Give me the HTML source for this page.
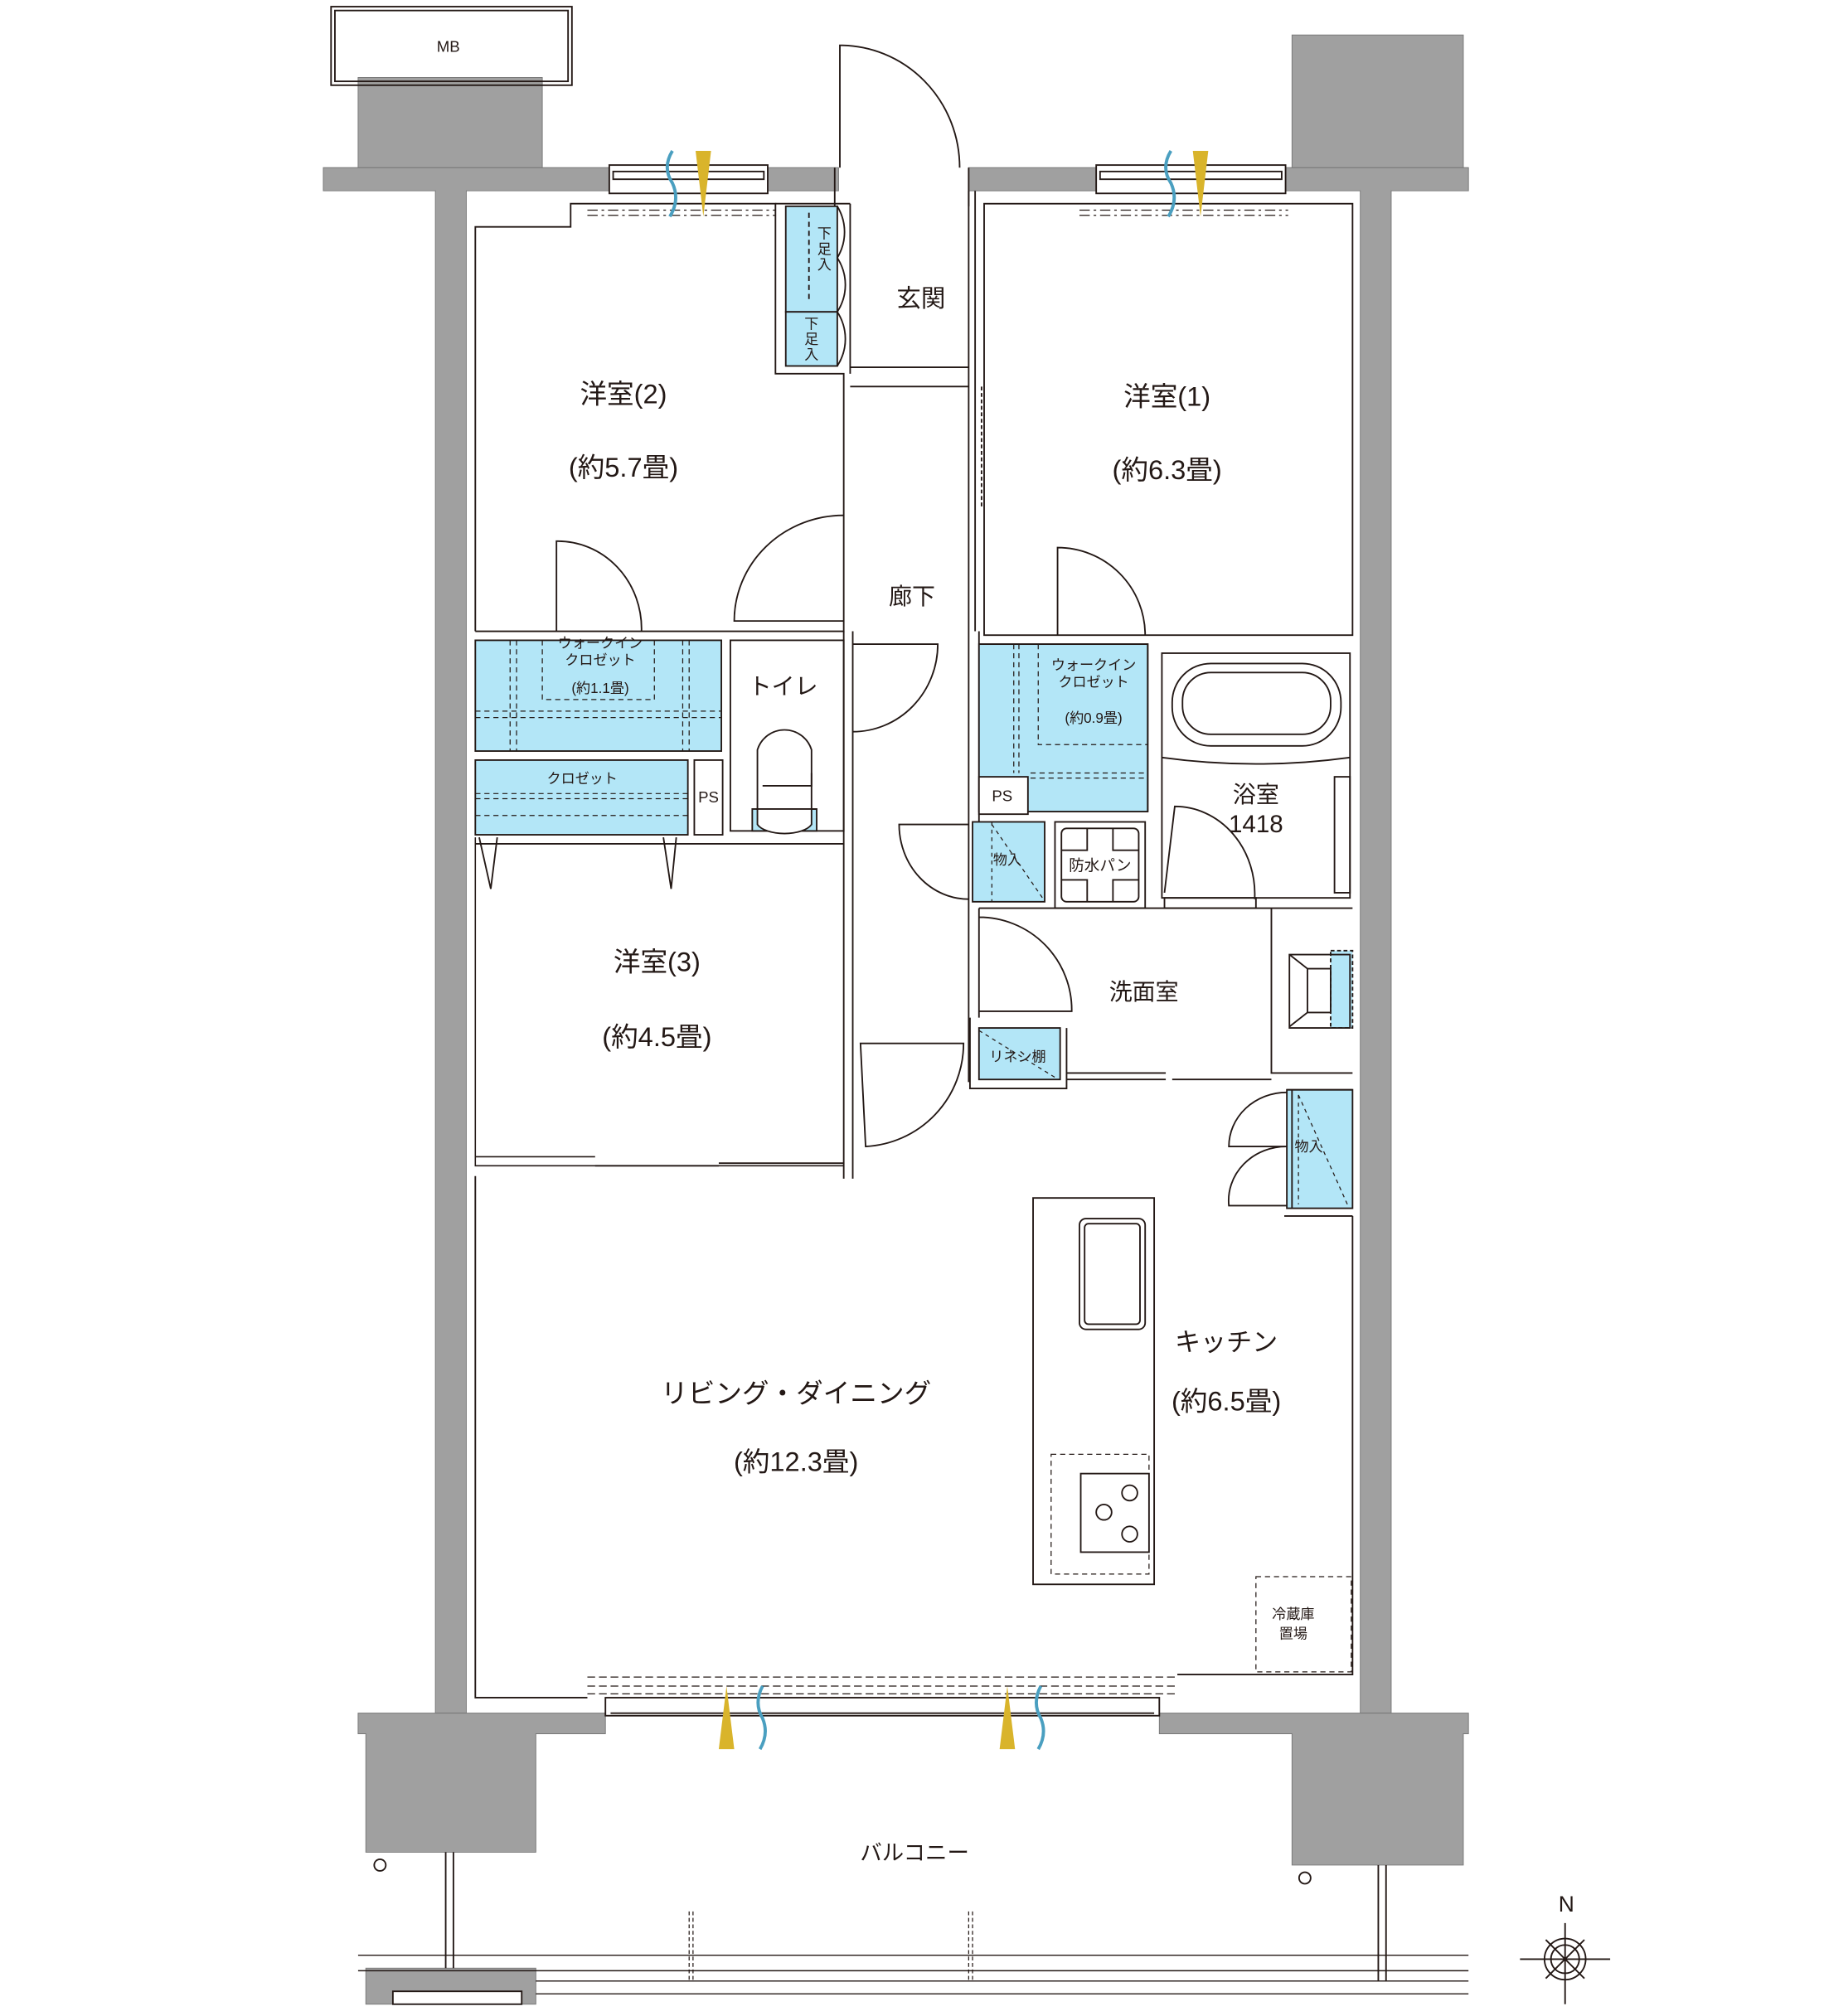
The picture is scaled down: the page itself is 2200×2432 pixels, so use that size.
<!DOCTYPE html>
<html><head><meta charset="utf-8"><style>
html,body{margin:0;padding:0;background:#fff;}
svg{display:block;}
text{font-family:"Liberation Sans","Noto Sans CJK JP",sans-serif;fill:#231815;}
</style></head><body>
<svg width="2200" height="2432" viewBox="0 0 1416 1565" xmlns="http://www.w3.org/2000/svg">
<g fill="none" stroke="#231815" stroke-width="1.2">
<g fill="#a0a0a0" stroke="#777" stroke-width="0.6">
<path d="M251 130 H473 V148 H362 V1330 H338 V148 H251 Z"/>
<rect x="596" y="130" width="55" height="18"/>
<rect x="752" y="130" width="99" height="18"/>
<path d="M998 130 H1140 V148 H1080 V1330 H1056 V148 H998 Z"/>
<rect x="278" y="60" width="143" height="70"/>
<rect x="1003" y="27" width="133" height="103"/>
<path d="M278 1330 H338 V1330 H362 V1330 H470 V1346 H416 V1438 H284 V1346 H278 Z"/>
<path d="M900 1330 H1140 V1346 H1136 V1448 H1003 V1346 H900 Z"/>
<rect x="284" y="1528" width="132" height="28"/>
</g>
<rect x="305" y="1546" width="100" height="10" fill="#fff"/>
<rect x="257" y="5" width="187" height="61"/>
<rect x="260" y="8" width="181" height="55"/>
<rect x="473" y="128" width="123" height="22"/><rect x="476" y="133" width="117" height="6"/>
<rect x="851" y="128" width="147" height="22"/><rect x="854" y="133" width="141" height="6"/>
<path d="M456 163 H602 M456 167 H602 M838 163 H1000 M838 167 H1000" stroke-dasharray="8 3 2 3" stroke-width="0.8"/>
<path d="M652 130 V35 A93 95 0 0 1 745 130"/>
<path d="M648 130 V160 M752 130 V160"/>
<path d="M369 490 V176 H443 V158 H602 V290 H655 V490 H369"/>
<path d="M602 158 H660 M660 158 V290 M752 148 V490 M660 285 H752 M660 300 H752"/>
<rect x="610" y="160" width="40" height="82" fill="#b3e6f7"/>
<rect x="610" y="242" width="40" height="42" fill="#b3e6f7"/>
<path d="M650 160 A42 40 0 0 1 650 200 A42 40 0 0 1 650 242 M650 242 A42 40 0 0 1 650 284"/>
<path d="M628 165 V235" stroke-dasharray="4 3"/>
<rect x="764" y="158" width="286" height="335"/>
<path d="M757 148 V300 M757 300 V490" />
<path d="M762 300 V395" stroke-dasharray="3 2"/>
<path d="M432 490 V420 A65 68 0 0 1 498 490"/>
<path d="M655 400 A85 82 0 0 0 570 482 H655"/>
<path d="M821 493 V425 A68 68 0 0 1 889 493"/>
<path d="M655 490 V915 M662 490 V915 M752 490 V840 M760 490 V700"/>
<path d="M662 500 H728 A66 68 0 0 1 662 568"/>
<rect x="369" y="497" width="191" height="86" fill="#b3e6f7"/>
<path d="M396 497 V583 M401 497 V583 M530 497 V583 M535 497 V583 M369 552 H560 M369 557 H560 M421 497 V543 H508 V497" stroke-dasharray="4 3" stroke-width="0.8"/>
<rect x="369" y="590" width="165" height="58" fill="#b3e6f7"/>
<path d="M369 616 H534 M369 620 H534 M369 633 H534" stroke-dasharray="4 3" stroke-width="0.8"/>
<rect x="539" y="590" width="22" height="58"/>
<path d="M372 650 L381 690 L386 650 M525 650 L521 690 L515 650"/>
<rect x="567" y="497" width="88" height="148"/>
<rect x="584" y="628" width="50" height="17" fill="#b3e6f7"/>
<path d="M588 640 V582 A22 22 0 0 1 630 582 V640 A22 10 0 0 1 588 640 Z" fill="#fff"/>
<path d="M587 628 H634 M592 610 H630 V600"/>
<path d="M369 650 V905 H655 M369 898 H462 M369 905 H462" stroke-width="1"/>
<path d="M462 905 H558 M558 903 H655" />
<path d="M655 655 H369"/>
<path d="M668 810 H748 A80 80 0 0 1 672 890 Z"/>
<rect x="760" y="500" width="131" height="130" fill="#b3e6f7"/>
<path d="M760 500 H891 V630"/>
<path d="M787 500 V600 M791 500 V600 M806 500 V578 H891 M800 600 H891 M800 604 H891" stroke-dasharray="4 3" stroke-width="0.8"/>
<rect x="760" y="603" width="38" height="29" fill="#fff"/>
<rect x="755" y="638" width="56" height="62" fill="#b3e6f7"/>
<path d="M770 638 V700 M770 640 L810 698" stroke-dasharray="3 3" stroke-width="0.8"/>
<path d="M752 640 H698 A54 58 0 0 0 752 698"/>
<rect x="819" y="638" width="70" height="67"/>
<rect x="824" y="643" width="60" height="57" rx="4"/>
<path d="M844 643 V660 H824 M864 643 V660 H884 M824 683 H844 V700 M884 683 H864 V700"/>
<rect x="902" y="507" width="146" height="190"/>
<rect x="910" y="515" width="131" height="64" rx="30"/>
<rect x="918" y="522" width="115" height="48" rx="22"/>
<path d="M902 588 Q975 598 1048 588"/>
<rect x="1036" y="603" width="12" height="90"/>
<path d="M904 693 L912 626 A62 68 0 0 1 974 698"/>
<rect x="904" y="697" width="71" height="8"/>
<path d="M760 705 H1050 M760 705 V790 M987 705 V833 H1050 M760 712 A72 72 0 0 1 832 785 H760"/>
<rect x="760" y="798" width="63" height="40" fill="#b3e6f7"/>
<path d="M753 790 V845 H828 V798 M828 833 H905 M828 838 H905 M910 838 H987" />
<path d="M760 800 L820 837" stroke-dasharray="3 3" stroke-width="0.8"/>
<rect x="1033" y="738" width="17" height="60" fill="#b3e6f7" stroke-dasharray="3 2"/>
<path d="M1001 741 H1048 V798 H1001 Z M1001 741 L1015 752 H1033 V786 H1015 L1001 797 M1015 752 V786"/>
<rect x="999" y="846" width="51" height="92" fill="#b3e6f7"/>
<path d="M1003 846 V938 M999 846 H1050 M997 944 H1050"/>
<path d="M1008 850 V935 M1008 850 L1046 935" stroke-dasharray="3 3" stroke-width="0.8"/>
<path d="M999 848 A45 42 0 0 0 954 890 H999 A45 42 0 0 0 954 936 H999"/>
<path d="M369 913 V1318 H456 M914 1300 H1050 V944"/>
<path d="M456 1302 H914 M456 1309 H914 M456 1315 H914" stroke-dasharray="6 3" stroke-width="0.8"/>
<rect x="470" y="1318" width="430" height="14"/>
<path d="M474 1330 H896"/>
<rect x="802" y="930" width="94" height="300"/>
<rect x="838" y="946" width="51" height="86" rx="5"/>
<rect x="842" y="950" width="43" height="78" rx="3"/>
<rect x="816" y="1129" width="76" height="93" stroke-dasharray="4 3" stroke-width="0.8"/>
<rect x="839" y="1144" width="53" height="61"/>
<circle cx="877" cy="1159" r="6"/><circle cx="857" cy="1174" r="6"/><circle cx="877" cy="1191" r="6"/>
<rect x="975" y="1224" width="74" height="74" stroke-dasharray="4 3" stroke-width="0.8"/>
<path d="M346 1438 V1528 M352 1438 V1528 M1070 1448 V1538 M1076 1448 V1538"/>
<path d="M278 1518 H1140 M278 1530 H1140 M416 1538 H1140 M416 1548 H1140" stroke-width="0.9"/>
<path d="M535 1484 V1538 M538 1484 V1538 M752 1484 V1538 M755 1484 V1538" stroke-dasharray="3 2" stroke-width="0.8"/>
<circle cx="295" cy="1448" r="4.5"/><circle cx="1013" cy="1458" r="4.5"/>
<circle cx="1215" cy="1521" r="16"/><circle cx="1215" cy="1521" r="11"/>
<path d="M1215 1493 V1556 M1180 1521 H1250 M1200 1506 L1230 1536 M1230 1506 L1200 1536"/>
</g>
<g>
<path d="M540 117 H552 L546 168 Z M926 117 H938 L932 168 Z M558 1358 L564 1309 L570 1358 Z M776 1358 L782 1309 L788 1358 Z" fill="#d9b42b"/>
<path d="M522 117 Q514 130 522 142 Q528 155 520 168 M909 117 Q901 130 909 142 Q915 155 907 168 M592 1309 Q585 1322 592 1334 Q597 1346 590 1358 M808 1309 Q801 1322 808 1334 Q813 1346 806 1358" fill="none" stroke="#4a9fc0" stroke-width="2.5"/>
</g>
<g font-size="21">
<text x="348" y="40" font-size="12" text-anchor="middle">MB</text>
<text x="715" y="238" font-size="19" text-anchor="middle">玄関</text>
<text x="484" y="313" text-anchor="middle">洋室(2)</text>
<text x="484" y="370" text-anchor="middle">(約5.7畳)</text>
<text x="906" y="315" text-anchor="middle">洋室(1)</text>
<text x="906" y="372" text-anchor="middle">(約6.3畳)</text>
<text x="708" y="469" font-size="18" text-anchor="middle">廊下</text>
<text x="608" y="539" font-size="18" text-anchor="middle">トイレ</text>
<text x="510" y="754" text-anchor="middle">洋室(3)</text>
<text x="510" y="812" text-anchor="middle">(約4.5畳)</text>
<text x="975" y="623" font-size="18" text-anchor="middle">浴室</text>
<text x="975" y="646" font-size="19" text-anchor="middle">1418</text>
<text x="888" y="776" font-size="18" text-anchor="middle">洗面室</text>
<text x="618" y="1089" text-anchor="middle">リビング・ダイニング</text>
<text x="618" y="1142" text-anchor="middle">(約12.3畳)</text>
<text x="952" y="1049" font-size="20" text-anchor="middle">キッチン</text>
<text x="952" y="1095" text-anchor="middle">(約6.5畳)</text>
<text x="710" y="1444" font-size="17" text-anchor="middle">バルコニー</text>
<text x="1216" y="1484" font-size="17" text-anchor="middle">N</text>
</g>
<g font-size="11" text-anchor="middle">
<text x="466" y="503">ウォークイン</text>
<text x="466" y="516">クロゼット</text>
<text x="466" y="538">(約1.1畳)</text>
<text x="452" y="608">クロゼット</text>
<text x="550" y="623" font-size="12">PS</text>
<text x="849" y="520">ウォークイン</text>
<text x="849" y="533">クロゼット</text>
<text x="849" y="561">(約0.9畳)</text>
<text x="778" y="622" font-size="12">PS</text>
<text x="782" y="671">物入</text>
<text x="854" y="676" font-size="12">防水パン</text>
<text x="790" y="824">リネン棚</text>
<text x="1016" y="894">物入</text>
<text x="1004" y="1257">冷蔵庫</text>
<text x="1004" y="1272">置場</text>
<text x="640" y="185" font-size="11">下</text><text x="640" y="197" font-size="11">足</text><text x="640" y="209" font-size="11">入</text>
<text x="630" y="255" font-size="11">下</text><text x="630" y="267" font-size="11">足</text><text x="630" y="279" font-size="11">入</text>
</g>
</svg>
</body></html>
